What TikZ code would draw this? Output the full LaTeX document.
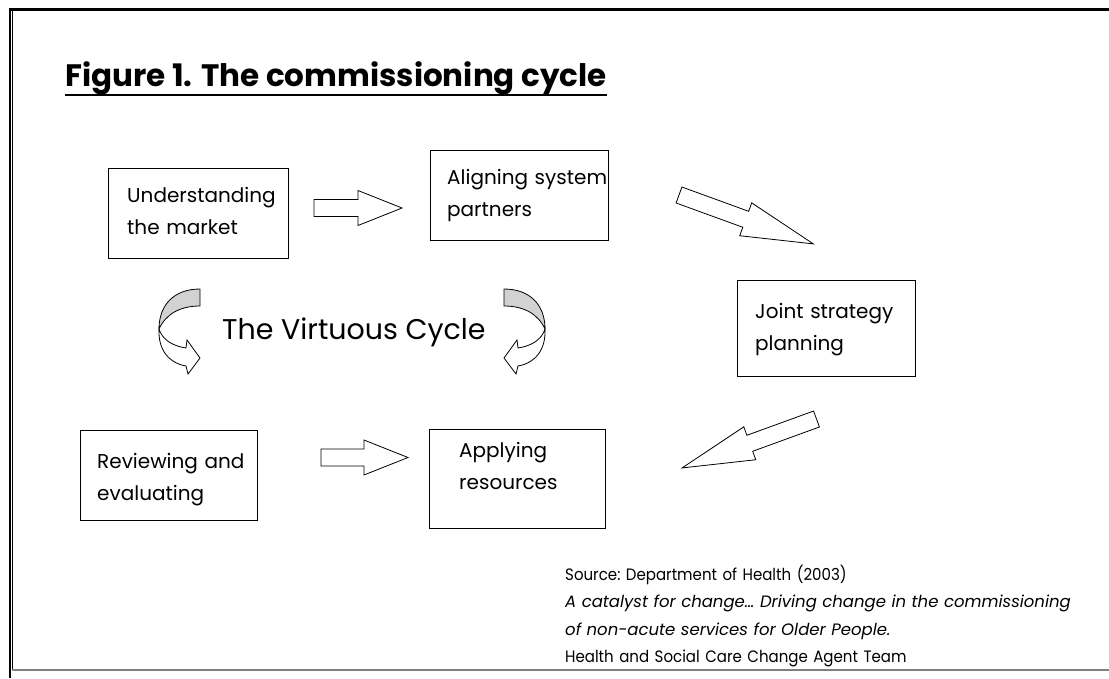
\documentclass[tikz,border=0pt]{standalone}
\usepackage{fontspec}
\setmainfont{Poppins}
\newfontfamily\notefont[FakeStretch=0.91]{Poppins}
\newcommand{\fatarrow}[4]{% tail centre, angle, total length, head length
  \draw[blockarrow, shift={#1}, rotate=#2]
    (0,-8.5) -- ({#3-#4},-8.5) -- ({#3-#4},-17.5) -- (#3,0)
    -- ({#3-#4},17.5) -- ({#3-#4},8.5) -- (0,8.5) -- cycle;}
\newcommand{\twistarrow}{% ribbon arrow curling down to the left
  \draw[ribbon, fill=bandgray]
    (504,289) .. controls (530,289) and (545,305) .. (545,329)
    .. controls (538,314) and (524,306) .. (504,306) -- cycle;
  \draw[ribbon, fill=white]
    (545,329) .. controls (546,350) and (535,363) .. (518,366)
    -- (516,374) -- (504,358) -- (517,340) -- (518,348)
    .. controls (532,346) and (542,339) .. (545,329) -- cycle;}
\definecolor{bandgray}{HTML}{D2D2D2}
\definecolor{framegray}{HTML}{808080}
\begin{document}
\begin{tikzpicture}[x=1pt,y=-1pt,
  stagebox/.style={draw, line width=0.9pt, inner sep=0pt},
  boxtext/.style={anchor=base west, inner sep=0pt, align=left, text width=200pt,
    font=\fontsize{20}{32.5}\selectfont},
  blockarrow/.style={draw, fill=white, line width=0.8pt, line join=miter},
  ribbon/.style={draw, line width=0.8pt, line join=miter}]
\useasboundingbox (0,0) rectangle (1109,678);

% page frame
\draw[line width=2.6pt] (10,8) -- (10,678);
\draw[line width=2.6pt] (8.7,9.5) -- (1109,9.5);
\draw[line width=0.9pt] (12.8,11) -- (12.8,670);
\draw[framegray, line width=2pt] (12.4,670) -- (1109,670);

% title
\node[anchor=base west, inner sep=0pt, font=\fontsize{31}{36}\selectfont\bfseries]
  (title) at (65,86) {Figure 1. The commissioning cycle};
\draw[line width=1.8pt] (title.south west) -- (title.south east);

% stages
\node[stagebox, minimum width=180pt, minimum height=90pt] (b1) at (198,213) {};
\node[stagebox, minimum width=178pt, minimum height=90pt] (b2) at (519,195) {};
\node[stagebox, minimum width=178pt, minimum height=96pt] (b3) at (826,328) {};
\node[stagebox, minimum width=177pt, minimum height=90pt] (b4) at (168.5,475) {};
\node[stagebox, minimum width=176pt, minimum height=99pt] (b5) at (517,478.5) {};

\node[boxtext] (t1) at (127,202) {Understanding\\the market};
\node[boxtext] (t2) at (447,184) {Aligning system\\partners};
\node[boxtext] (t3) at (755,318) {Joint strategy\\planning};
\node[boxtext] (t4) at (97,468) {Reviewing and\\evaluating};
\node[boxtext] (t5) at (459,457) {Applying\\resources};

% block arrows between the stages
\fatarrow{(314,208)}{0}{88}{44}
\fatarrow{(679,195)}{-20}{143}{72}
\fatarrow{(816.5,419)}{200}{143}{72}
\fatarrow{(321,457.5)}{0}{87}{44}

% the virtuous cycle
\twistarrow
\begin{scope}[shift={(704,0)}, xscale=-1]
  \twistarrow
\end{scope}
\node[anchor=base west, inner sep=0pt, font=\fontsize{28.5}{32}\selectfont]
  (cycle) at (222,339) {The Virtuous Cycle};

% source note
\node[anchor=base west, inner sep=0pt, align=left, text width=540pt,
  font=\fontsize{16.5}{27.5}\selectfont\frenchspacing] (source) at (565,580)
  {{\notefont Source: Department of Health (2003)}\\
   \textit{A catalyst for change\dots\ Driving change in the commissioning}\\
   \textit{of non-acute services for Older People.}\\
   {\notefont Health and Social Care Change Agent Team}};
\end{tikzpicture}
\end{document}
